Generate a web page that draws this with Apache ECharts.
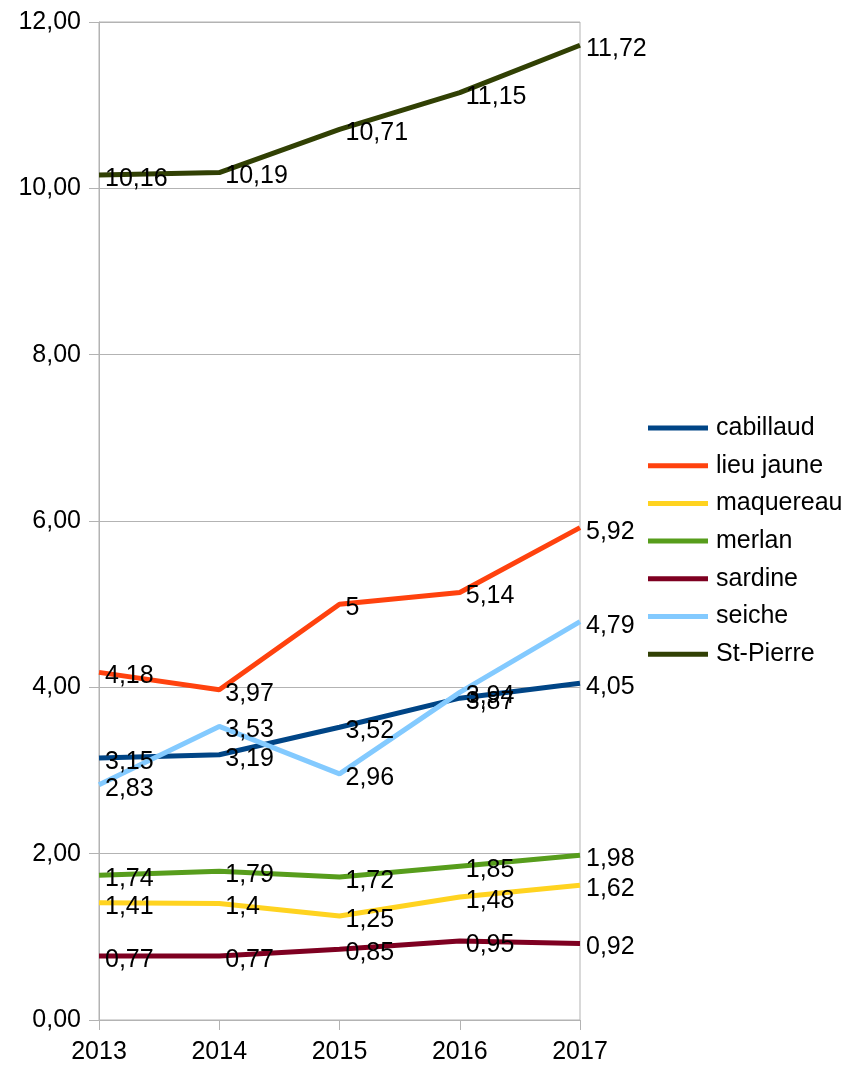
<!DOCTYPE html>
<html>
<head>
<meta charset="utf-8">
<script src="https://cdn.jsdelivr.net/npm/echarts@6/dist/echarts.min.js"></script>
<style>html,body{margin:0;padding:0;background:#fff}#c{width:850px;height:1067px}</style>
</head>
<body>
<div id="c"></div>
<script>
const years = ['2013', '2014', '2015', '2016', '2017'];
const cabillaud = [3.15, 3.19, 3.52, 3.87, 4.05];
const lieuJaune = [4.18, 3.97, 5, 5.14, 5.92];
const maquereau = [1.41, 1.4, 1.25, 1.48, 1.62];
const merlan = [1.74, 1.79, 1.72, 1.85, 1.98];
const sardine = [0.77, 0.77, 0.85, 0.95, 0.92];
const seiche = [2.83, 3.53, 2.96, 3.94, 4.79];
const stPierre = [10.16, 10.19, 10.71, 11.15, 11.72];

const seriesDefs = [
  ['cabillaud', cabillaud, '#004586'],
  ['lieu jaune', lieuJaune, '#ff420e'],
  ['maquereau', maquereau, '#ffd320'],
  ['merlan', merlan, '#579d1c'],
  ['sardine', sardine, '#7e0021'],
  ['seiche', seiche, '#83caff'],
  ['St-Pierre', stPierre, '#314004']
];
const FONT = 'Liberation Sans, Arial, sans-serif';
const FS = 25;
const chart = echarts.init(document.getElementById('c'));
chart.setOption({
  animation: false,
  textStyle: { fontFamily: FONT },
  grid: { left: 99, right: 270, top: 22, bottom: 47, show: true, borderColor: '#b3b3b3', borderWidth: 1 },
  legend: {
    orient: 'vertical', left: 643, top: 410,
    itemWidth: 60, itemHeight: 5, itemGap: 11.7,
    icon: 'rect',
    textStyle: { fontSize: FS, color: '#000', lineHeight: 26, fontFamily: FONT, padding: [0, 0, 0, 3] },
    data: seriesDefs.map(d => d[0])
  },
  xAxis: {
    type: 'category', data: years, boundaryGap: false,
    axisLine: { lineStyle: { color: '#b3b3b3', width: 1 } },
    axisTick: { show: true, length: 10, lineStyle: { color: '#b3b3b3' } },
    axisLabel: { fontSize: FS, color: '#000', margin: 20, fontFamily: FONT },
    splitLine: { show: false }
  },
  yAxis: {
    type: 'value', min: 0, max: 12, interval: 2,
    axisLine: { show: true, lineStyle: { color: '#b3b3b3' } },
    axisTick: { show: true, length: 10, lineStyle: { color: '#b3b3b3' } },
    axisLabel: { fontSize: FS, color: '#000', margin: 18, fontFamily: FONT,
      formatter: v => v.toFixed(2).replace('.', ',') },
    splitLine: { show: true, lineStyle: { color: '#b3b3b3', width: 1 } }
  },
  series: seriesDefs.map(([name, data, color]) => ({
    name, type: 'line', data,
    symbol: 'circle', symbolSize: 0,
    lineStyle: { color, width: 5 },
    itemStyle: { color },
    label: {
      show: true, position: 'right', distance: 6, offset: [0, 4],
      fontSize: FS, color: '#000', fontFamily: FONT,
      formatter: p => String(p.value).replace('.', ',')
    },
    emphasis: { disabled: true }
  }))
});
</script>
</body>
</html>
